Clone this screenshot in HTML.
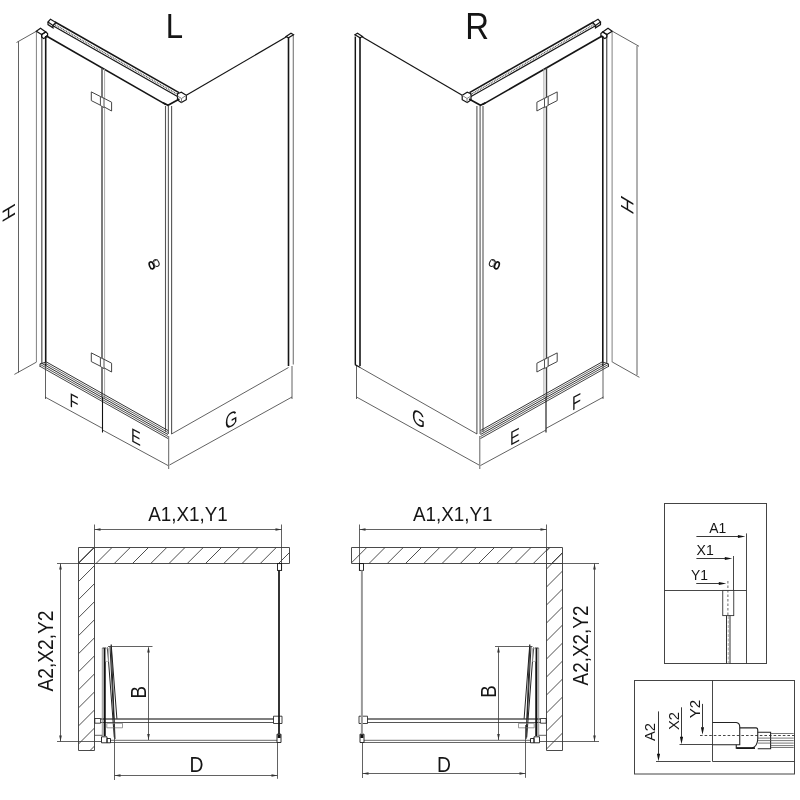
<!DOCTYPE html>
<html><head><meta charset="utf-8">
<style>
html,body{margin:0;padding:0;background:#fff;width:800px;height:800px;overflow:hidden}
svg{display:block;will-change:transform}
text{font-family:"Liberation Sans",sans-serif;fill:#151515}
.k{stroke:#151515;stroke-width:1.2;fill:none}
.k2{stroke:#151515;stroke-width:1.6;fill:none}
.g{stroke:#808080;stroke-width:1;fill:none}
.gl{stroke:#a0a0a0;stroke-width:0.9;fill:none}
.d{stroke:#3a3a3a;stroke-width:0.8;fill:none}
.wl{stroke:#4a4a4a;stroke-width:1;fill:none}
.ht{stroke:#3a3a3a;stroke-width:0.9;fill:none}
</style></head>
<body>
<svg width="800" height="800" viewBox="0 0 800 800">
<rect width="800" height="800" fill="#fff"/>
<defs>
<clipPath id="cbl"><path d="M78.5 547.5H289.5V563.5H94.5V750.5H78.5Z"/></clipPath>
<clipPath id="cbr"><path d="M351.5 547.5H562.5V750.5H546.5V563.5H351.5Z"/></clipPath>
<g id="iso">
  <path class="g" d="M36.4 31.3V362.2"/>
  <path class="g" d="M41.8 34.6V364" style="stroke-width:1.4;stroke:#6a6a6a"/>
  <path class="k2" d="M45.7 36V366"/>
  <path class="k" d="M36.3 31.3L40.5 28.3L45.8 32L41.6 34.6Z" fill="#fff"/>
  <path class="k" d="M41.6 34.6L45.8 32L47.6 33.6L47.6 36.4L43.6 38.6L41.6 37Z" fill="#fff"/>
  <path class="k2" d="M46 35.8L166 104.6" />
  <path class="k2" d="M55 22L179 92.6"/>
  <path class="k" d="M52.5 25.5L177.5 96.5"/>
  <path d="M53.5 24L178 94.6" stroke="#555" stroke-width="1.3" stroke-dasharray="1 0.8" fill="none"/>
  <path class="k" d="M48 22L50.5 19.2L56 22.5L53 25.5Z" fill="#fff"/>
  <path class="k" d="M48 22L48 24.6L53 27.8L53 25.5" fill="#fff"/>
  <path class="k" d="M177.5 93.8L181.3 92.2L186.3 95.3L186.3 99.7L181.3 102.5L177.5 100Z" fill="#fff"/>
  <path class="g" d="M177.5 96L181.5 98.5L186.3 95.3M181.5 98.5V102.5"/>
  <path d="M165.5 106V432" stroke="#555" stroke-width="1.1"/>
  <path d="M168.4 106V434" stroke="#666" stroke-width="1.2"/>
  <path d="M171.6 106V434" stroke="#555" stroke-width="1.1"/>
  <path class="k2" d="M163 102.8L168 105.3L179.4 99"/>
  <path class="k" d="M102 67.5V397" style="stroke:#444;stroke-width:1.4"/>
  <path class="gl" d="M104.6 69V398"/>
  <g id="hinge">
  <path d="M91.3 91.9V100.6L100.6 105.3V96.6Z" fill="#fff" stroke="#444" stroke-width="1"/>
  <path d="M102.5 97.5L111.6 102.2V111L102.5 106Z" fill="#fff" stroke="#444" stroke-width="1"/>
  <path d="M100.4 96.5V105.5L104 107.6V98.5Z" fill="#fff" stroke="#555" stroke-width="1"/>
  </g>
  <use href="#hinge" transform="translate(0,261)"/>
  <ellipse cx="156.3" cy="263" rx="2.6" ry="3.5" transform="rotate(-25 156.3 263)" stroke="#222" stroke-width="1.1" fill="#fff"/>
  <path d="M152.2 262.2L157.4 259.6L155.2 266.6L150.4 268.9Z" fill="#fff" stroke="none"/>
  <path d="M152.2 262.2L157.4 259.6M150.4 268.9L155.2 266.6" stroke="#333" stroke-width="0.9"/>
  <path d="M153.8 262.3L155 267.6" stroke="#777" stroke-width="1.4"/>
  <ellipse cx="151.6" cy="265.4" rx="2.1" ry="3.6" transform="rotate(-22 151.6 265.4)" stroke="#111" stroke-width="1.6" fill="#fff"/>
  <path d="M46.5 362.00L168 430.53" stroke="#333" stroke-width="1" fill="none"/>
  <path d="M44 362.59L168 432.53" stroke="#666" stroke-width="1" fill="none"/>
  <path d="M42 363.46L168 434.53" stroke="#333" stroke-width="1" fill="none"/>
  <path d="M40.5 364.62L168 436.53" stroke="#555" stroke-width="1" fill="none"/>
  <path d="M40 366.33L168 438.53" stroke="#444" stroke-width="1" fill="none"/>
  <path d="M46.5 362L40 363.8L40 367" stroke="#333" stroke-width="1" fill="none"/>
  <path class="k" d="M186.3 95.3L286.5 36.8"/>
  <path class="k2" d="M288.5 37.5V366"/>
  <path class="g" d="M293.3 34.8V364.5" style="stroke-width:1.2"/>
  <path class="k" d="M286 36.5L291 33.3L293.5 34.8L288.5 37.8Z" fill="#fff"/>
  <path class="d" d="M171.5 434L288.5 367.5"/>
  <path class="d" d="M45.5 366V399"/>
  <path class="d" d="M45 397L102.5 428.4"/>
  <path d="M102.5 397V432.5" stroke="#111" stroke-width="1.1"/>
  <path class="d" d="M102.5 430L168 465.5"/>
  <path class="d" d="M168.7 436V469"/>
  <path class="d" d="M169.5 465L292 397"/>
  <path class="d" d="M292 366V399"/>
</g>

<g id="plan">
  <path class="wl" d="M78.5 547.5H289.5V563.5H94.5V750.5H78.5Z"/>
  <path class="wl" d="M94.5 547.5V563.5H78.5"/>
  <!-- A1 dim -->
  <path class="d" d="M94.5 524.5V547.5M281.5 524.5V570.4M94.5 529.5H281.5"/>
  <path d="M94.5 529.5l6 -1.3v2.6z M281.5 529.5l-6 -1.3v2.6z" fill="#333"/>
  <!-- glass & profile -->
  <rect x="277.5" y="563.6" width="4.1" height="6.8" class="k" style="stroke-width:0.9" fill="#fff"/>
  <!-- rail -->
  <path d="M100.6 719H273.5" stroke="#555" stroke-width="1.5"/>
  <path d="M100.6 722.5H273.5" stroke="#555" stroke-width="1"/>
  <path class="k" d="M273.5 716.2H282V723.5H273.5Z" style="stroke-width:0.8" fill="#fff"/>
  <path class="k" d="M94.8 718.5H100.6V723.2H94.8Z" style="stroke-width:0.8" fill="#fff"/>
  <!-- lower rail -->
  <path d="M110.5 740.4H277" stroke="#888" stroke-width="1.2"/>
  <path d="M110.5 742.5H277" stroke="#555" stroke-width="0.9"/>
  <path class="k" d="M277 734.2H281V742.5H277Z" style="stroke-width:0.9" fill="#fff"/>
  <path d="M277.6 734.5H280.6V738H277.6Z" fill="#111"/>
  <!-- door folds -->
  <path d="M102.3 648V736" stroke="#888" stroke-width="0.9"/>
  <path d="M104.7 648V736" stroke="#111" stroke-width="2.1"/>
  <path d="M102.5 648H106.3" stroke="#333" stroke-width="1"/>
  <path d="M111.2 644.4L116.9 718.8M110 646.2L113.8 718.8M107.5 647.5L114.3 737.5M111.2 645.3L115 739" stroke="#222" stroke-width="1" fill="none"/>
  <rect x="105.6" y="648.8" width="3.1" height="12.5" fill="none" stroke="#aaa" stroke-width="0.8"/>
  <path class="g" d="M106.8 723.3H122.5V727.8H106.8Z" fill="#fff" style="stroke-width:0.8"/>
  <path class="k" d="M101.5 736.8H107V742.8H101.5ZM107 738.5H110.5V742.8H107Z" fill="#fff" style="stroke-width:0.9"/>
  <path class="d" d="M94.8 735.3H102.3"/>
</g>

</defs>
<use href="#iso"/>
<use href="#iso" transform="translate(648.5,0) scale(-1,1)"/>
<use href="#plan"/>
<use href="#plan" transform="translate(641,0) scale(-1,1)"/>
<path class="ht" clip-path="url(#cbl)" d="M77.75 563.5L93.75 547.5M96 563.5L112 547.5M114.25 563.5L130.25 547.5M132.5 563.5L148.5 547.5M150.75 563.5L166.75 547.5M169 563.5L185 547.5M187.25 563.5L203.25 547.5M205.5 563.5L221.5 547.5M223.75 563.5L239.75 547.5M242 563.5L258 547.5M260.25 563.5L276.25 547.5M278.5 563.5L294.5 547.5M296.75 563.5L312.75 547.5M78.5 563.5L94.5 547.5M78.5 581.55L94.5 565.55M78.5 599.6L94.5 583.6M78.5 617.65L94.5 601.65M78.5 635.7L94.5 619.7M78.5 653.75L94.5 637.75M78.5 671.8L94.5 655.8M78.5 689.85L94.5 673.85M78.5 707.9L94.5 691.9M78.5 725.95L94.5 709.95M78.5 744L94.5 728M78.5 762.05L94.5 746.05"/>
<path class="ht" clip-path="url(#cbr)" d="M350.75 563.5L366.75 547.5M369 563.5L385 547.5M387.25 563.5L403.25 547.5M405.5 563.5L421.5 547.5M423.75 563.5L439.75 547.5M442 563.5L458 547.5M460.25 563.5L476.25 547.5M478.5 563.5L494.5 547.5M496.75 563.5L512.75 547.5M515 563.5L531 547.5M533.25 563.5L549.25 547.5M551.5 563.5L567.5 547.5M569.75 563.5L585.75 547.5M546.5 551L562.5 535M546.5 569L562.5 553M546.5 587L562.5 571M546.5 605L562.5 589M546.5 623L562.5 607M546.5 641L562.5 625M546.5 659L562.5 643M546.5 677L562.5 661M546.5 695L562.5 679M546.5 713L562.5 697M546.5 731L562.5 715M546.5 749L562.5 733M546.5 767L562.5 751"/>
<text font-size="35" transform="matrix(0.89,0,0,1,165.7,37.8)">L</text>
<text font-size="36.6" transform="matrix(0.9,0,0,1,465.3,38.9)">R</text>
<text font-size="19.6" transform="matrix(0.75,0.41,0,1,69.5,406)">F</text>
<text font-size="19.6" transform="matrix(0.75,0.41,0,1,131,441)">E</text>
<text font-size="21" transform="matrix(0.77,-0.433,0,1,225,430.2)">G</text>
<text font-size="21" transform="matrix(0.8,0.45,0,1,412,422)">G</text>
<text font-size="19.6" transform="matrix(0.75,-0.41,0,1,510,446)">E</text>
<text font-size="19.6" transform="matrix(0.75,-0.41,0,1,572,411)">F</text>
<text font-size="18" transform="matrix(0,-1.07,1,-0.6,14.6,216)">H</text>
<text font-size="18" transform="matrix(0,1.07,-1,-0.6,621,194.2)">H</text>
<!-- plan texts -->
<text x="148.3" y="521.3" font-size="20.3" textLength="79.5" lengthAdjust="spacingAndGlyphs">A1,X1,Y1</text>
<text x="413" y="521.3" font-size="20.3" textLength="79.5" lengthAdjust="spacingAndGlyphs">A1,X1,Y1</text>
<text font-size="21.5" textLength="81" lengthAdjust="spacingAndGlyphs" transform="matrix(0,-1,1,0,52.8,691.5)">A2,X2,Y2</text>
<text font-size="21.5" textLength="80" lengthAdjust="spacingAndGlyphs" transform="matrix(0,-1,1,0,587.6,685.5)">A2,X2,Y2</text>
<text font-size="21.5" transform="matrix(0.9,0,0,1,189.6,772)">D</text>
<text font-size="21.5" transform="matrix(0.9,0,0,1,437,772)">D</text>
<text font-size="22" transform="matrix(0,-0.85,1,0,145.5,698.4)">B</text>
<text font-size="22" transform="matrix(0,-0.85,1,0,495.6,697.8)">B</text>

<!-- non-mirrored dims -->
<path class="d" d="M60.5 563.5V741.5M57 563.5H94.5M57 741.5H101.5"/>
<path d="M60.5 563.5l-1.3 6h2.6z M60.5 741.5l-1.3 -6h2.6z" fill="#333"/>
<path class="d" d="M594.5 563.5V741.5M546.5 563.5H599M539.3 741.5H599"/>
<path d="M594.5 563.5l-1.3 6h2.6z M594.5 741.5l-1.3 -6h2.6z" fill="#333"/>
<path class="d" d="M148.5 647.5V740M108 646.5H152.5"/>
<path d="M148.5 646.5l-1.3 6h2.6z M148.5 740l-1.3 -6h2.6z" fill="#333"/>
<path class="d" d="M498.5 647.5V740M495 646.5H532.5"/>
<path d="M498.5 646.5l-1.3 6h2.6z M498.5 740l-1.3 -6h2.6z" fill="#333"/>

<path class="d" d="M18.5 41.5V372.5M14.4 374.4L36.3 362.2M16.5 42.5L36.3 31.3"/>
<path class="d" d="M637 46V375M612.3 362L639.4 377.3M612.5 31.3L639 46.3"/>

<path d="M279 570.4V734" stroke="#111" stroke-width="1.7"/>
<path d="M361.9 570.4V734" stroke="#999" stroke-width="2"/>
<path class="d" d="M114.5 725V780M277.5 742.5V778.8M114.5 775.5H277.5"/>
<path d="M114.5 775.5l6 -1.3v2.6z M277.5 775.5l-6 -1.3v2.6z" fill="#333"/>
<path class="d" d="M362.5 742.5V778M525.5 725V777.8M362.5 773.5H525.5"/>
<path d="M362.5 773.5l6 -1.3v2.6z M525.5 773.5l-6 -1.3v2.6z" fill="#333"/>
<path d="M355.4 37V364.8L360.3 367.5" stroke="#151515" stroke-width="1.3" fill="none"/>

<g id="detail">
  <!-- box 1 -->
  <rect x="664.5" y="503.5" width="102" height="160" fill="none" stroke="#444" stroke-width="1"/>
  <path d="M664.5 590.5H746.5M746.5 533.4V663.5M733.5 556V590.5" stroke="#333" stroke-width="0.9" fill="none"/>
  <path d="M696.4 536.5H739M696.4 558.5H726M696.25 583.5H720" stroke="#222" stroke-width="0.9" fill="none"/>
  <path d="M745.4 536.5l-7.5 -1.6v3.2zM732.3 558.5l-7.5 -1.6v3.2zM726.3 583.5l-7.5 -1.6v3.2z" fill="#111"/>
  <rect x="722.75" y="590.4" width="11" height="25.2" fill="#fff" stroke="#333" stroke-width="0.9"/>
  <path d="M726.5 615.6V663.5M730 615.6V663.5" stroke="#333" stroke-width="1" fill="none"/>
  <path d="M727.9 581V615.6" stroke="#444" stroke-width="0.8" stroke-dasharray="2.5 2" fill="none"/>
  <path d="M728.25 616V663.5" stroke="#999" stroke-width="0.8" stroke-dasharray="3 1.5" fill="none"/>
  <text x="709.3" y="532.75" font-size="15.3" textLength="17" lengthAdjust="spacingAndGlyphs">A1</text>
  <text x="696.5" y="555" font-size="15.3" textLength="17.2" lengthAdjust="spacingAndGlyphs">X1</text>
  <text x="691" y="580" font-size="15.3" textLength="17" lengthAdjust="spacingAndGlyphs">Y1</text>
  <!-- box 2 -->
  <rect x="634.5" y="680.5" width="160" height="93.5" fill="none" stroke="#444" stroke-width="1"/>
  <path d="M712.5 680.5V761.5M656 761.5H710.6M712.5 761.5H794.5M679.5 744.5H712.5" stroke="#333" stroke-width="0.9" fill="none"/>
  <path d="M658.5 711.4V754M681.5 707.3V737M702.5 703.9V727.5" stroke="#222" stroke-width="0.9" fill="none"/>
  <path d="M658.5 761.2l-1.6 -7.5h3.2zM681.5 744.3l-1.6 -7.5h3.2zM702.5 734.8l-1.6 -7.5h3.2z" fill="#111"/>
  <path d="M700 735.5H796" stroke="#333" stroke-width="0.9" stroke-dasharray="2.6 2" fill="none"/>
  <!-- profile -->
  <path d="M712.5 722.5H736.3Q739.75 723 739.75 726.9V744.75H712.5" fill="none" stroke="#222" stroke-width="1.1"/>
  <path d="M739.75 727.9H756.25Q757.75 728.2 757.75 730V738.75Q757.5 746.5 752 748.1H736.25V744.75" fill="none" stroke="#222" stroke-width="1.1"/>
  <path d="M736.5 748.1H755" stroke="#111" stroke-width="1.6"/>
  <path d="M757.75 732.25H770.6V748.75H757.75" fill="none" stroke="#222" stroke-width="1.1"/>
  <path d="M770.6 733.5H793.7M757.75 738.1H793.7M757.75 740.6H793.7M757.75 743.1H793.7M770.6 745.6H793.7M770.6 747.5H793.7" stroke="#555" stroke-width="0.8" fill="none"/>
  <text font-size="15.3" textLength="18" lengthAdjust="spacingAndGlyphs" transform="matrix(0,-1,1,0,655.4,741)">A2</text>
  <text font-size="15.3" textLength="18" lengthAdjust="spacingAndGlyphs" transform="matrix(0,-1,1,0,678.8,730)">X2</text>
  <text font-size="15.3" textLength="18.5" lengthAdjust="spacingAndGlyphs" transform="matrix(0,-1,1,0,700,718.3)">Y2</text>
</g>

</svg>
</body></html>
